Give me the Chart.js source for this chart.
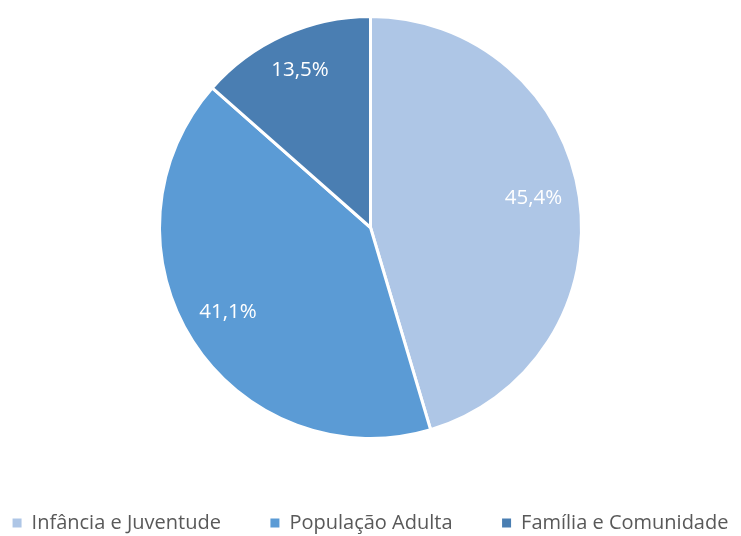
<!DOCTYPE html>
<html lang="pt">
<head>
    <meta charset="UTF-8">
    <title>Distribuição por área</title>
    <script src="https://cdn.jsdelivr.net/npm/chart.js"></script>
    <style>
        html, body { margin: 0; padding: 0; background: #fff; }
        #wrap { width: 741px; height: 536px; }
    </style>
</head>
<body>
    <div id="wrap"><canvas id="pieChart"></canvas></div>
    <script>
        // chart data
        const categories = ['Infância e Juventude', 'População Adulta', 'Família e Comunidade'];
        const shares = [45.4, 41.1, 13.5];
        const sliceColors = ['#aec6e6', '#5b9bd5', '#4a7eb2'];

        // writes "45,4%" style labels inside each slice
        const sliceLabels = {
            id: 'sliceLabels',
            afterDatasetsDraw(chart) {
                const ctx = chart.ctx;
                const arcs = chart.getDatasetMeta(0).data;
                ctx.save();
                ctx.font = '20.5px "Open Sans", sans-serif';
                ctx.fillStyle = '#ffffff';
                ctx.textAlign = 'center';
                ctx.textBaseline = 'middle';
                arcs.forEach((arc, i) => {
                    const p = arc.getProps(['x', 'y', 'startAngle', 'endAngle', 'outerRadius'], true);
                    const mid = (p.startAngle + p.endAngle) / 2;
                    const r = p.outerRadius * 0.79;
                    const label = shares[i].toFixed(1).replace('.', ',') + '%';
                    ctx.fillText(label, p.x + Math.cos(mid) * r - 2, p.y + Math.sin(mid) * r - 5);
                });
                ctx.restore();
            }
        };

        // wider gaps between legend entries without wrapping the row
        const gap = '        ';

        new Chart(document.getElementById('pieChart'), {
            type: 'pie',
            data: {
                labels: categories,
                datasets: [{
                    data: shares,
                    backgroundColor: sliceColors,
                    borderColor: '#ffffff',
                    borderWidth: 3
                }]
            },
            options: {
                responsive: true,
                maintainAspectRatio: false,
                animation: false,
                layout: { padding: { top: 15, bottom: -7, left: 0, right: 0 } },
                plugins: {
                    tooltip: { enabled: false },
                    legend: {
                        position: 'bottom',
                        title: {
                            display: true,
                            text: ' ',
                            font: { size: 12 },
                            padding: { top: 0, bottom: 50.6 }
                        },
                        labels: {
                            boxWidth: 9,
                            boxHeight: 9,
                            padding: 8,
                            color: '#595959',
                            font: { family: '"Open Sans", sans-serif', size: 20 },
                            generateLabels(chart) {
                                const items = Chart.overrides.pie.plugins.legend.labels.generateLabels(chart);
                                items.forEach((it, i) => {
                                    it.lineWidth = 0;
                                    if (i < items.length - 1) it.text = it.text + gap;
                                });
                                return items;
                            }
                        }
                    }
                }
            },
            plugins: [sliceLabels]
        });
    </script>
</body>
</html>
